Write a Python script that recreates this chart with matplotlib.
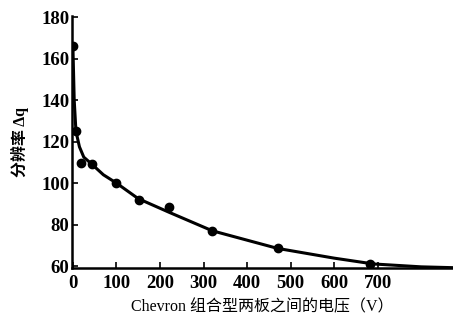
import matplotlib.pyplot as plt

plt.rcParams['font.family'] = ['Liberation Serif', 'Noto Sans CJK SC']

# measured points
volts = [0, 7, 18, 44, 100, 152, 221, 319, 472, 683]
resolution = [166, 125, 109.5, 109, 100, 92, 88.5, 77, 68.5, 61]

# hand-drawn trend line through the measurements
curve_v = [0, 3, 7, 15, 25, 44, 70, 100, 150, 220, 320, 470, 600, 690, 800, 873]
curve_r = [166, 140, 125, 117.5, 112.5, 109, 104, 100, 92.5, 86, 77, 68.5, 63.8, 61, 59.6, 59.2]

xticks = [0, 100, 200, 300, 400, 500, 600, 700]
yticks = [60, 80, 100, 120, 140, 160, 180]

fig = plt.figure(figsize=(4.53, 3.23), dpi=100)
ax = fig.add_axes([0.159, 0.170, 0.841, 0.780])

ax.plot(curve_v, curve_r, '-', color='black', lw=2.2, solid_capstyle='round')
ax.plot(volts, resolution, 'o', color='black', markersize=6)

ax.set_xlim(-2, 873)
ax.set_ylim(59, 180.5)
ax.set_xticks(xticks)
ax.set_yticks(yticks)
ax.tick_params(direction='in', length=4, width=1.2, labelsize=13.5)
ax.tick_params(axis='x', pad=5)
ax.tick_params(axis='y', pad=2)
for lab in ax.get_xticklabels() + ax.get_yticklabels():
    lab.set_fontweight('bold')

ax.spines['top'].set_visible(False)
ax.spines['right'].set_visible(False)
ax.spines['left'].set_linewidth(1.8)
ax.spines['bottom'].set_linewidth(1.8)

ax.set_xlabel('Chevron 组合型两板之间的电压（V）', fontsize=11.5, labelpad=5)
ax.set_ylabel('分辨率 Δq', fontsize=11.5, fontweight='bold', labelpad=9)

fig.savefig('out.png', dpi=100)
